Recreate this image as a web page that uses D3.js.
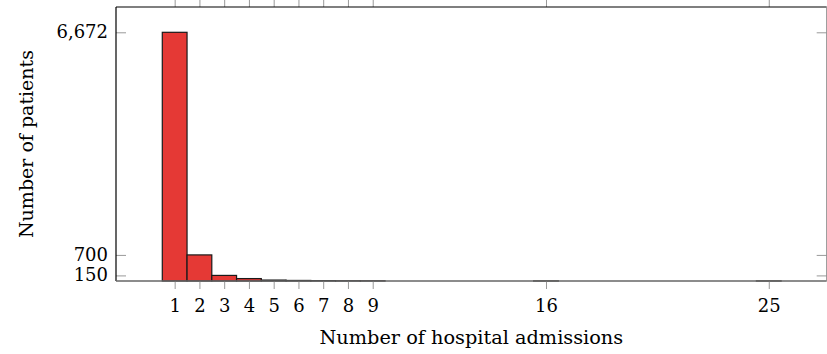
<!DOCTYPE html>
<html>
<head>
<meta charset="utf-8">
<script src="https://cdn.jsdelivr.net/npm/d3@7"></script>
<style>
  body { margin: 0; background: #fff; }
  svg { display: block; }
  text { font-family: "DejaVu Serif", serif; fill: #000; }
</style>
</head>
<body>
<div id="chart"></div>
<script>
// admissions per patient (x) and number of patients (y)
var admissions = [1, 2, 3, 4, 5, 6, 7, 8, 9, 16, 25];
var patients = [6672, 700, 150, 65, 25, 15, 10, 6, 5, 2, 2];
var xTickValues = [1, 2, 3, 4, 5, 6, 7, 8, 9, 16, 25];
var yTickValues = [150, 700, 6672];
var xLabel = 'Number of hospital admissions';
var yLabel = 'Number of patients';

var width = 827, height = 354;
var margin = { top: 7, right: 0.3, bottom: 73, left: 116 };

var svg = d3.select('#chart').append('svg')
  .attr('width', width)
  .attr('height', height);

var x = d3.scaleLinear()
  .domain([-1.37, 27.34])
  .range([margin.left, width - margin.right]);
var y = d3.scaleLinear()
  .domain([0, 7351])
  .range([height - margin.bottom, margin.top]);

var data = admissions.map(function(a, i) { return { a: a, n: patients[i] }; });

// bars
svg.append('g').selectAll('rect')
  .data(data)
  .enter()
  .append('rect')
  .attr('x', function(d) { return x(d.a - 0.5); })
  .attr('width', function(d) { return x(d.a + 0.5) - x(d.a - 0.5); })
  .attr('y', function(d) { return y(d.n); })
  .attr('height', function(d) { return y(0) - y(d.n); })
  .attr('fill', '#e53935')
  .attr('stroke', '#1a1a1a')
  .attr('stroke-width', 1.2);

// bottom ticks (outside) and top ticks (outside, mostly clipped)
var xAxisBottom = d3.axisBottom(x).tickValues(xTickValues).tickSize(8).tickPadding(6).tickFormat(d3.format('d'));
var gxb = svg.append('g')
  .attr('transform', 'translate(0,' + y(0) + ')')
  .call(xAxisBottom);
gxb.select('.domain').remove();
gxb.selectAll('.tick line').attr('stroke', '#999');
gxb.selectAll('.tick text')
  .attr('font-size', '18px')
  .attr('font-family', '"DejaVu Serif", serif')
  .attr('y', 0).attr('dy', null)
  .attr('transform', 'translate(0,30.7)');

var xAxisTop = d3.axisTop(x).tickValues(xTickValues).tickSize(8).tickFormat('');
var gxt = svg.append('g')
  .attr('transform', 'translate(0,' + y.range()[1] + ')')
  .call(xAxisTop);
gxt.select('.domain').remove();
gxt.selectAll('.tick line').attr('stroke', '#999');

// y ticks inside on both sides
var yAxisLeft = d3.axisRight(y).tickValues(yTickValues).tickSize(10).tickFormat('');
var gyl = svg.append('g')
  .attr('transform', 'translate(' + margin.left + ',0)')
  .call(yAxisLeft);
gyl.select('.domain').remove();
gyl.selectAll('.tick line').attr('stroke', '#999');

svg.append('g').selectAll('text')
  .data(yTickValues)
  .enter()
  .append('text')
  .attr('x', margin.left - 8)
  .attr('y', function(d) { return y(d) + 6; })
  .attr('text-anchor', 'end')
  .attr('font-size', '18px')
  .text(function(d) { return d3.format(',')(d); });

var yAxisRight = d3.axisLeft(y).tickValues(yTickValues).tickSize(10).tickFormat('');
var gyr = svg.append('g')
  .attr('transform', 'translate(' + (width - margin.right) + ',0)')
  .call(yAxisRight);
gyr.select('.domain').remove();
gyr.selectAll('.tick line').attr('stroke', '#999');

// axis frame
var x0 = margin.left, x1 = width - margin.right, y0 = y(0), y1 = y.range()[1];
svg.append('line').attr('x1', x0).attr('x2', x1).attr('y1', y1).attr('y2', y1).attr('stroke', '#000').attr('stroke-width', 1.2);
svg.append('line').attr('x1', x0).attr('x2', x0).attr('y1', y1).attr('y2', y0).attr('stroke', '#000').attr('stroke-width', 1.2);
svg.append('line').attr('x1', x0).attr('x2', x1).attr('y1', y0).attr('y2', y0).attr('stroke', '#666').attr('stroke-width', 1.6);
svg.append('line').attr('x1', x1).attr('x2', x1).attr('y1', y1).attr('y2', y0).attr('stroke', '#888').attr('stroke-width', 1);

// axis labels
svg.append('text')
  .attr('x', (x0 + x1) / 2)
  .attr('y', 344)
  .attr('text-anchor', 'middle')
  .attr('font-size', '19.3px')
  .text(xLabel);

svg.append('text')
  .attr('transform', 'translate(32.5,' + ((y0 + y1) / 2) + ') rotate(-90)')
  .attr('text-anchor', 'middle')
  .attr('font-size', '19px')
  .text(yLabel);
</script>
</body>
</html>
